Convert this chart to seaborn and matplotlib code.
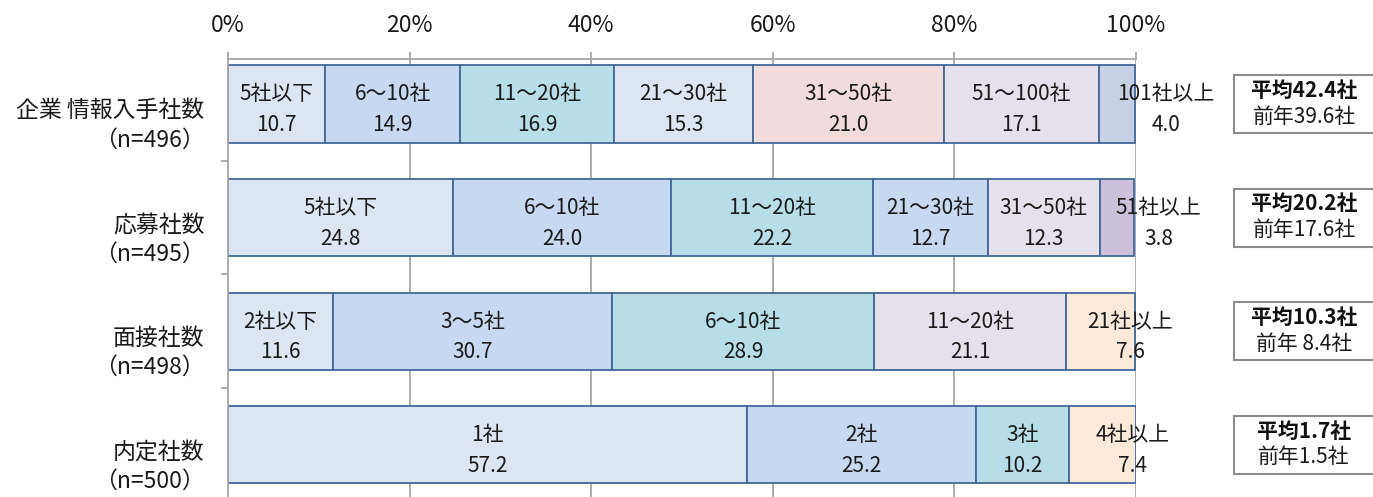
import matplotlib
matplotlib.use("Agg")
import matplotlib.pyplot as plt
import matplotlib.transforms as mtransforms
from matplotlib.patches import Rectangle
import seaborn as sns

# データ
categories = ["企業 情報入手社数\n（n=496）", "応募社数\n（n=495）", "面接社数\n（n=498）", "内定社数\n（n=500）"]
seg_labels = [
    ["5社以下", "6～10社", "11～20社", "21～30社", "31～50社", "51～100社", "101社以上"],
    ["5社以下", "6～10社", "11～20社", "21～30社", "31～50社", "51社以上"],
    ["2社以下", "3～5社", "6～10社", "11～20社", "21社以上"],
    ["1社", "2社", "3社", "4社以上"],
]
seg_values = [
    [10.7, 14.9, 16.9, 15.3, 21.0, 17.1, 4.0],
    [24.8, 24.0, 22.2, 12.7, 12.3, 3.8],
    [11.6, 30.7, 28.9, 21.1, 7.6],
    [57.2, 25.2, 10.2, 7.4],
]
avg_now = ["42.4", "20.2", "10.3", "1.7"]
avg_prev = ["39.6", "17.6", " 8.4", "1.5"]

# 色
seg_colors = [
    ["#DCE6F2", "#C6D9F1", "#B7DEE8", "#DCE6F2", "#F2DCDB", "#E6E0EC", "#C5D0E2"],
    ["#DCE6F2", "#C6D9F1", "#B7DEE8", "#C6D9F1", "#E6E0EC", "#CCC0DA"],
    ["#DCE6F2", "#C6D9F1", "#B7DEE8", "#E6E0EC", "#FDE9D9"],
    ["#DCE6F2", "#C6D9F1", "#B7DEE8", "#FDE9D9"],
]
last_label_x = [103.3, 102.5, 99.4, 99.6]

sns.set_theme(style="white")
plt.rcParams['font.family'] = ['Noto Sans CJK JP', 'DejaVu Sans']

fig = plt.figure(figsize=(13.73, 4.97), dpi=100)
ax = fig.add_axes([228 / 1373, 0, 908 / 1373, (497 - 59) / 497])

grid_c = "#A6A6A6"
edge_c = "#41689A"
txt_c = "#1A1A1A"

for x in [20, 40, 60, 80, 100]:
    ax.axvline(x, color=grid_c, lw=1.3, zorder=0)

for i, (labs, vals, cols) in enumerate(zip(seg_labels, seg_values, seg_colors)):
    left = 0.0
    for j, (lab, v, c) in enumerate(zip(labs, vals, cols)):
        ax.barh(i, v, left=left, height=0.68, color=c, edgecolor=edge_c, linewidth=1.3, zorder=2)
        cx = left + v / 2
        if j == len(vals) - 1:
            cx = last_label_x[i]
        ax.text(cx, i - 0.085, lab, ha="center", va="center", fontsize=15, color=txt_c, zorder=4)
        ax.text(cx, i + 0.185, f"{v:.1f}", ha="center", va="center", fontsize=15, color=txt_c, zorder=4)
        left += v

    # 平均ボックス
    ax.add_patch(Rectangle((110.8, i - 0.255), 15.4, 0.51, facecolor="white", edgecolor="#8C8C8C",
                           linewidth=1.5, clip_on=False, zorder=3))
    ax.text(118.5, i - 0.12, f"平均{avg_now[i]}社", ha="center", va="center", fontsize=15,
            fontweight="bold", color="#111111", clip_on=False, zorder=5)
    ax.text(118.5, i + 0.11, f"前年{avg_prev[i]}社", ha="center", va="center", fontsize=15,
            color=txt_c, clip_on=False, zorder=5)

ax.set_xlim(0, 100)
ax.set_ylim(3.46, -0.396)
ax.xaxis.tick_top()
ax.set_xticks([0, 20, 40, 60, 80, 100])
ax.set_xticklabels([f"{t}%" for t in [0, 20, 40, 60, 80, 100]])
ax.tick_params(axis="x", which="both", top=True, bottom=False, length=5, width=1.3,
               color=grid_c, labelsize=16.5, pad=11, labelcolor=txt_c)

ax.set_yticks(range(len(categories)))
ax.set_yticklabels(categories, fontsize=16.5, color=txt_c, ha="right", multialignment="right",
                   linespacing=1.35)
ax.tick_params(axis="y", which="major", left=False, pad=11)
ax.set_yticks([0.5, 1.5, 2.5], minor=True)
ax.tick_params(axis="y", which="minor", left=True, length=5, width=1.3, color=grid_c)

# ラベルを少し下へ
shift = mtransforms.ScaledTranslation(0, -16 / 100, fig.dpi_scale_trans)
for lab in ax.get_yticklabels():
    lab.set_transform(lab.get_transform() + shift)

for s in ["right", "bottom"]:
    ax.spines[s].set_visible(False)
ax.spines["top"].set_color(grid_c)
ax.spines["top"].set_linewidth(1.3)
ax.spines["left"].set_color(grid_c)
ax.spines["left"].set_linewidth(1.3)
ax.set_facecolor("white")
ax.set_xlabel("")
ax.set_ylabel("")

fig.savefig("out.png", dpi=100, facecolor="white")
